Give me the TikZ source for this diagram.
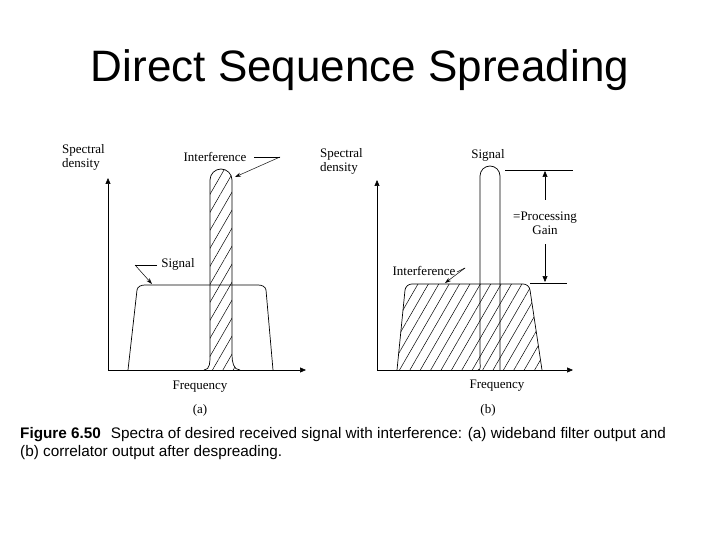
\documentclass[tikz,border=0pt]{standalone}
\usepackage{fontspec}
\setmainfont{Liberation Serif}
\newfontfamily\arialf{Liberation Sans}
\usetikzlibrary{patterns.meta,arrows.meta}
\begin{document}
\begin{tikzpicture}[x=1pt,y=-1pt,
  lbl/.style={font=\fontsize{13}{14}\selectfont,inner sep=0pt},
  ax/.style={line width=0.6pt,-{Triangle[length=6pt,width=5pt]}},
  curve/.style={line width=0.7pt},
  hatch/.style={pattern={Lines[angle=60,distance=9pt,line width=0.5pt]}},
  ptr/.style={line width=0.5pt,-{Stealth[length=6pt,width=4pt]}}]
\useasboundingbox (0,0) rectangle (720,540);
\node[font=\arialf\fontsize{44}{48}\selectfont] (title) at (360,70) {Direct Sequence Spreading};
% panel (a)
\coordinate (ao) at (108,370);
\coordinate (ay) at (108,178);
\coordinate (ax) at (306,370);
\draw[ax] (ao) -- (ay);
\draw[ax] (ao) -- (ax);
\draw[curve] (128,370) -- (137,290) to[out=80,in=180] (145,285) -- (258,285) to[out=0,in=100] (266,290) -- (273,370);
\draw[curve,hatch] (204,370) to[out=0,in=270] (210,355) -- (210,180) arc[start angle=180,end angle=360,radius=11] -- (232,355) to[out=270,in=180] (240,370);
\node[lbl,align=left,anchor=north west] (sda) at (62,144) {Spectral\\density};
\node[lbl] (ia) at (215,157) {Interference};
\coordinate (iak) at (280,157);
\draw[line width=0.5pt] (254,157) -- (iak);
\draw[ptr] (iak) -- (235,177);
\node[lbl] (sa) at (178,264) {Signal};
\coordinate (sak) at (135,265);
\draw[line width=0.5pt] (157,265) -- (sak);
\draw[ptr] (sak) -- (152,284);
\node[lbl] (fa) at (200,387) {Frequency};
\node[lbl] (pa) at (200,410) {(a)};
% panel (b)
\coordinate (bo) at (377,370);
\coordinate (by) at (377,180);
\coordinate (bx) at (573,370);
\draw[ax] (bo) -- (by);
\draw[ax] (bo) -- (bx);
\draw[curve,hatch] (397,370) -- (405,290) to[out=80,in=180] (412,284) -- (523,284) to[out=0,in=100] (530,290) -- (542,370);
\draw[curve] (478,370) to[out=0,in=270] (480,362) -- (480,176) arc[start angle=180,end angle=360,radius=10] -- (500,370);
\coordinate (g1) at (505,170);
\coordinate (g1e) at (573,170);
\coordinate (g2) at (530,283);
\coordinate (g2e) at (567,283);
\draw[line width=0.5pt] (g1) -- (g1e);
\draw[line width=0.5pt] (g2) -- (g2e);
\node[lbl,align=center] (pg) at (545,223) {=Processing\\Gain};
\draw[ptr,-{Triangle[length=6pt,width=5pt]}] (545,200) -- (545,171);
\draw[ptr,-{Triangle[length=6pt,width=5pt]}] (545,244) -- (545,282);
\node[lbl,align=left,anchor=north west] (sdb) at (320,148) {Spectral\\density};
\node[lbl] (sb) at (488,155) {Signal};
\node[lbl] (ib) at (424,271) {Interference};
\coordinate (ibk) at (465,268);
\draw[line width=0.5pt] (457,272) -- (ibk);
\draw[ptr] (ibk) -- (445,283);
\node[lbl] (fb) at (497,386) {Frequency};
\node[lbl] (pb) at (488,410) {(b)};
% caption
\node[anchor=north west,align=left,inner sep=0pt,font=\arialf\fontsize{15.3}{18}\selectfont] (cap) at (20,427)
 {\textbf{Figure 6.50}\hspace{10pt}Spectra of desired received signal with interference: (a) wideband filter output and\\(b) correlator output after despreading.};
\end{tikzpicture}
\end{document}
